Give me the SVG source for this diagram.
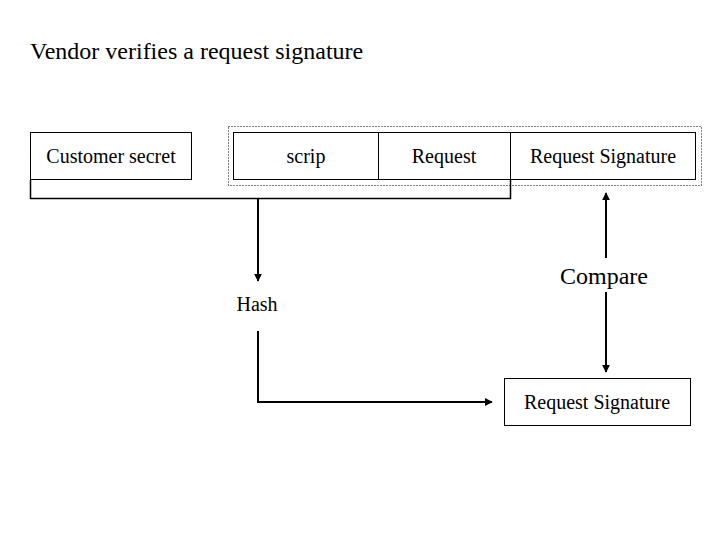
<svg xmlns="http://www.w3.org/2000/svg" width="720" height="540" viewBox="0 0 720 540">
<style>
text{font-family:"Liberation Serif","Times New Roman",serif;fill:#000}
.box{fill:#fff;stroke:#000;stroke-width:1}
.lbl{font-size:20px;text-anchor:middle}
.ln{fill:none;stroke:#000;stroke-width:1.5}
.thick{fill:none;stroke:#000;stroke-width:2}
</style>
<defs>
<marker id="ah" viewBox="0 0 10 10" refX="9" refY="5" markerWidth="4" markerHeight="4" orient="auto-start-reverse" markerUnits="strokeWidth">
<path d="M0,0 L10,5 L0,10 z" fill="#000"/>
</marker>
</defs>
<rect width="720" height="540" fill="#fff"/>
<text x="30" y="59" font-size="24">Vendor verifies a request signature</text>
<g id="customer-secret"><rect class="box" x="30.5" y="132.5" width="161" height="47"/><text class="lbl" x="111" y="163">Customer secret</text></g>
<g id="message-group"><rect x="228.5" y="126.5" width="473" height="59" fill="none" stroke="#000" stroke-width="1" stroke-dasharray="1,2"/></g>
<g id="scrip"><rect class="box" x="233.5" y="132.5" width="145" height="47"/><text class="lbl" x="306" y="163">scrip</text></g>
<g id="request"><rect class="box" x="378.5" y="132.5" width="132" height="47"/><text class="lbl" x="444" y="163">Request</text></g>
<g id="request-signature"><rect class="box" x="510.5" y="132.5" width="185" height="47"/><text class="lbl" x="603" y="163">Request Signature</text></g>
<g id="hash"><text class="lbl" x="257" y="311">Hash</text></g>
<g id="compare"><text x="604" y="284" font-size="24" text-anchor="middle">Compare</text></g>
<g id="computed-signature"><rect class="box" x="504.5" y="378.5" width="186" height="47"/><text class="lbl" x="597" y="409">Request Signature</text></g>
<g id="connectors">
<path class="ln" d="M30.5,180 V198.5 H510.5 V180"/>
<path class="thick" d="M258,198.5 V281" marker-end="url(#ah)"/>
<path class="thick" d="M606,193 V258" marker-start="url(#ah)"/>
<path class="thick" d="M606,292 V372" marker-end="url(#ah)"/>
<path class="thick" d="M258,331 V402 H492" marker-end="url(#ah)"/>
</g>
</svg>
